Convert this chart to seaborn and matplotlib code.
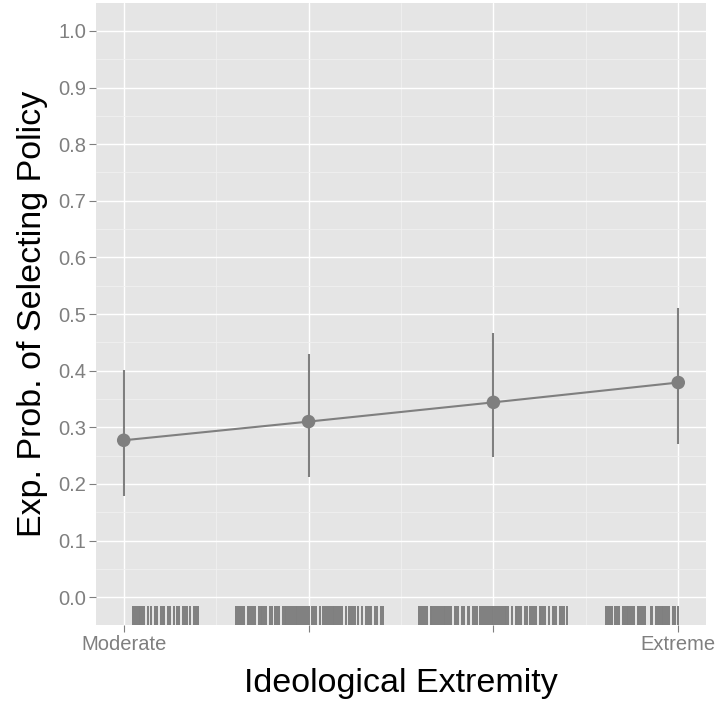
import numpy as np
import pandas as pd
import matplotlib
matplotlib.use("Agg")
import matplotlib.pyplot as plt
import seaborn as sns

# predicted probabilities at four levels of extremity
levels = [0, 1, 2, 3]
prob = [0.277, 0.310, 0.344, 0.379]
ci_low = [0.178, 0.212, 0.247, 0.270]
ci_high = [0.402, 0.429, 0.466, 0.510]
tick_labels = ["Moderate", "", "", "Extreme"]

rug_moderate = [0.05, 0.06, 0.07, 0.08, 0.09, 0.10, 0.11, 0.13, 0.15, 0.17, 0.18,
                0.20, 0.21, 0.22, 0.24, 0.25, 0.27, 0.29, 0.30, 0.32, 0.33, 0.34,
                0.36, 0.38, 0.39, 0.40]
rug_mid_low = [0.61, 0.62, 0.63, 0.64, 0.65, 0.67, 0.68, 0.69, 0.70, 0.71, 0.73,
               0.74, 0.75, 0.76, 0.77, 0.79, 0.80, 0.82, 0.83, 0.84, 0.86, 0.87,
               0.88, 0.89, 0.90, 0.91, 0.92, 0.93, 0.94, 0.95, 0.96, 0.97, 0.98,
               0.99, 1.00, 1.02, 1.03, 1.04, 1.06, 1.08, 1.09, 1.10, 1.11, 1.12,
               1.13, 1.14, 1.15, 1.16, 1.17, 1.18, 1.20, 1.22, 1.23, 1.24, 1.25,
               1.27, 1.29, 1.31, 1.32, 1.33, 1.34, 1.36, 1.37, 1.39, 1.40]
rug_mid_high = [1.60, 1.61, 1.62, 1.63, 1.64, 1.66, 1.67, 1.68, 1.69, 1.70, 1.71,
                1.72, 1.73, 1.74, 1.75, 1.76, 1.77, 1.79, 1.80, 1.81, 1.83, 1.84,
                1.86, 1.87, 1.89, 1.90, 1.91, 1.93, 1.94, 1.95, 1.96, 1.97, 1.98,
                1.99, 2.00, 2.01, 2.02, 2.03, 2.04, 2.05, 2.06, 2.07, 2.08, 2.10,
                2.12, 2.13, 2.14, 2.15, 2.17, 2.18, 2.20, 2.21, 2.22, 2.23, 2.25,
                2.26, 2.27, 2.28, 2.30, 2.32, 2.33, 2.34, 2.36, 2.37, 2.38, 2.40]
rug_extreme = [2.61, 2.62, 2.63, 2.64, 2.66, 2.67, 2.68, 2.70, 2.71, 2.72, 2.73,
               2.74, 2.75, 2.76, 2.78, 2.79, 2.80, 2.81, 2.82, 2.85, 2.86, 2.88,
               2.89, 2.90, 2.91, 2.92, 2.93, 2.94, 2.95, 2.97, 2.98, 3.00]

df = pd.DataFrame({"x": levels, "prob": prob, "lo": ci_low, "hi": ci_high})
rug = pd.DataFrame({"x": rug_moderate + rug_mid_low + rug_mid_high + rug_extreme})

sns.set_style("darkgrid", {"axes.facecolor": "#E5E5E5", "grid.color": "white"})
plt.rcParams["font.family"] = ["Liberation Sans", "DejaVu Sans"]

grey = "#7F7F7F"
fig = plt.figure(figsize=(7.19, 7.04), dpi=100)
ax = fig.add_axes([0.1335, 0.1116, 0.8484, 0.8847])

ax.vlines(df["x"], df["lo"], df["hi"], color=grey, linewidth=1.5, zorder=3)
sns.lineplot(data=df, x="x", y="prob", color=grey, linewidth=1.5, ax=ax, zorder=3)
sns.scatterplot(data=df, x="x", y="prob", color=grey, s=95, edgecolor="none",
                ax=ax, zorder=4)
sns.rugplot(data=rug, x="x", height=0.032, color=grey, linewidth=1.4, alpha=1,
            ax=ax, zorder=2)

ax.set_xlim(-0.15, 3.15)
ax.set_ylim(-0.05, 1.05)
ax.set_xticks(levels)
ax.set_xticklabels(tick_labels)
ax.set_yticks(np.arange(0, 1.01, 0.1))
ax.set_yticklabels([f"{v:.1f}" for v in np.arange(0, 1.01, 0.1)])
ax.set_xticks([0.5, 1.5, 2.5], minor=True)
ax.set_yticks(np.arange(0.05, 1.0, 0.1), minor=True)
ax.grid(which="major", color="white", linewidth=1.0)
ax.grid(which="minor", color="#F2F2F2", linewidth=0.5)
ax.set_axisbelow(True)
for s in ax.spines.values():
    s.set_visible(False)

ax.tick_params(which="major", length=5, width=0.8, color=grey, labelcolor=grey,
               labelsize=14.5, pad=2, left=True, bottom=True)
ax.tick_params(which="minor", length=0)

ax.set_xlabel("Ideological Extremity", fontsize=24.5, color="black")
ax.set_ylabel("Exp. Prob. of Selecting Policy", fontsize=24.5, color="black")
ax.xaxis.set_label_coords(0.5, -0.068)
ax.yaxis.set_label_coords(-0.079, 0.5)

fig.savefig("out.png", dpi=100)
